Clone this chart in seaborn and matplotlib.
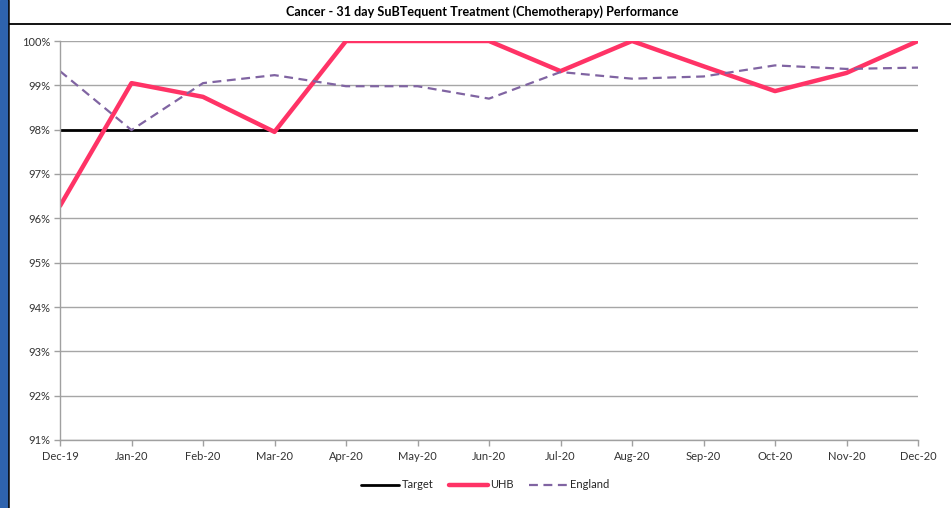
import matplotlib
matplotlib.use("Agg")
import matplotlib.pyplot as plt
import seaborn as sns
import pandas as pd
import numpy as np
from matplotlib.lines import Line2D
from matplotlib.patches import Rectangle

months = ["Dec-19", "Jan-20", "Feb-20", "Mar-20", "Apr-20", "May-20", "Jun-20",
          "Jul-20", "Aug-20", "Sep-20", "Oct-20", "Nov-20", "Dec-20"]
uhb = [96.28, 99.05, 98.74, 97.95, 100.0, 100.0, 100.0, 99.32, 100.0, 99.43, 98.87, 99.28, 100.0]
england = [99.32, 97.99, 99.05, 99.23, 98.98, 98.98, 98.70, 99.30, 99.15, 99.20, 99.45, 99.37, 99.40]
target = [98.0] * len(months)
yticks = [91, 92, 93, 94, 95, 96, 97, 98, 99, 100]

sns.set_theme(style="white")
plt.rcParams['font.family'] = ['Lato', 'DejaVu Sans']

df = pd.DataFrame({"x": np.arange(len(months)), "Target": target, "UHB": uhb, "England": england})

fig = plt.figure(figsize=(9.51, 5.08), dpi=100)
ax = fig.add_axes([60/951, 1-440/508, (918-60)/951, (440-41)/508])

for y in yticks:
    ax.axhline(y, color="#a6a6a6", lw=1.0, zorder=0)

sns.lineplot(data=df, x="x", y="Target", ax=ax, color="black", lw=2.0, legend=False)
sns.lineplot(data=df, x="x", y="UHB", ax=ax, color="#ff3366", lw=3.2, legend=False)
sns.lineplot(data=df, x="x", y="England", ax=ax, color="#8064a2", lw=1.6, legend=False,
             linestyle=(0, (4, 2.5)))

ax.set_xlim(0, len(months)-1)
ax.set_ylim(91, 100)
ax.set_xticks(df["x"])
ax.set_xticklabels(months)
ax.set_yticks(yticks)
ax.set_yticklabels([f"{y}%" for y in yticks])
ax.set_xlabel("")
ax.set_ylabel("")
ax.tick_params(axis="both", labelsize=8, colors="#333333", length=4, width=1, direction="out", pad=3)
ax.tick_params(axis="x", bottom=True, color="#a0a0a0", pad=4)
ax.tick_params(axis="y", left=True, color="#a0a0a0")
for s in ["top", "right"]:
    ax.spines[s].set_visible(False)
for s in ["left", "bottom"]:
    ax.spines[s].set_color("#a0a0a0")
    ax.spines[s].set_linewidth(1.0)

handles = [Line2D([], [], color="black", lw=2.0),
           Line2D([], [], color="#ff3366", lw=3.2),
           Line2D([], [], color="#8064a2", lw=1.6, linestyle=(0, (4, 2.5)))]
fig.legend(handles, ["Target", "UHB", "England"], loc="center", bbox_to_anchor=(485/951, 1-485/508),
           ncol=3, frameon=False, fontsize=8, handlelength=3.5, handletextpad=0.2, columnspacing=1.4)

# frame decorations
fig.patches.append(Rectangle((0, 0), 7/951, 1, transform=fig.transFigure, color="#2e63ae", zorder=5))
fig.lines.append(Line2D([7.5/951, 7.5/951], [0, 1], transform=fig.transFigure, color="black", lw=1.8))
fig.lines.append(Line2D([8/951, 1], [1-23.5/508, 1-23.5/508], transform=fig.transFigure, color="black", lw=1.3))
fig.text(482/951, 1-12/508, "Cancer - 31 day SuBTequent Treatment (Chemotherapy) Performance",
         ha="center", va="center", fontsize=9.1, fontweight="bold", color="black")

fig.savefig("out.png", dpi=100)
